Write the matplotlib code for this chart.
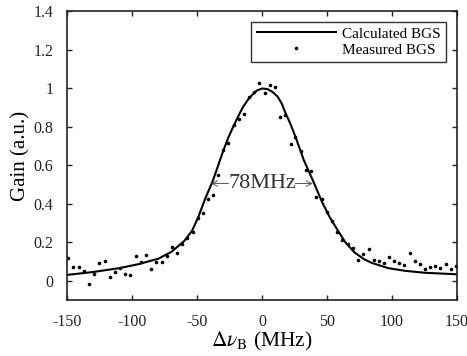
import numpy as np
import matplotlib
matplotlib.use('Agg')
import matplotlib.pyplot as plt
from matplotlib.ticker import FormatStrFormatter

# Measured BGS
x_meas = [-149.4, -145.5, -141.0, -137.3, -133.2, -129.3, -125.5, -121.3, -117.5, -113.6,
          -109.5, -105.4, -101.6, -97.4, -93.6, -89.5, -85.6, -81.5, -77.4, -73.5,
          -69.4, -65.6, -61.7, -57.6, -53.5, -49.6, -45.8, -41.9, -38.0, -33.7,
          -29.9, -26.0, -21.9, -18.0, -13.9, -10.1, -6.0, -2.1, 2.0, 5.9,
          10.0, 13.8, 17.7, 21.8, 25.6, 29.8, 33.9, 37.7, 41.8, 45.7,
          49.9, 53.7, 57.6, 61.6, 65.7, 69.6, 73.7, 77.6, 81.9, 85.8,
          89.6, 93.5, 97.7, 101.5, 105.6, 109.4, 113.5, 117.7, 121.8, 125.6,
          129.5, 133.3, 137.2, 141.3, 145.2, 149.0]
y_meas = [0.12, 0.074, 0.074, 0.053, -0.016, 0.036, 0.095, 0.105, 0.019, 0.048,
          0.066, 0.035, 0.028, 0.13, 0.10, 0.135, 0.062, 0.098, 0.098, 0.131,
          0.178, 0.144, 0.193, 0.221, 0.255, 0.325, 0.354, 0.425, 0.446, 0.55,
          0.677, 0.715, 0.808, 0.84, 0.867, 0.956, 0.982, 1.028, 0.973, 1.018,
          1.005, 0.848, 0.862, 0.709, 0.748, 0.675, 0.575, 0.568, 0.437, 0.425,
          0.356, 0.312, 0.252, 0.212, 0.192, 0.169, 0.109, 0.14, 0.164, 0.109,
          0.105, 0.095, 0.123, 0.105, 0.092, 0.083, 0.147, 0.104, 0.088, 0.061,
          0.071, 0.079, 0.069, 0.086, 0.064, 0.078]

# Calculated BGS
x_calc = [-150, -130, -110, -95, -80, -70, -60, -54, -49, -44, -38, -30, -26, -22, -18, -15,
          -11, -8, -4, 0, 4, 8, 12, 15, 18, 22, 26, 32, 40, 46, 52, 58, 64, 71, 78, 84,
          97, 110, 125, 150]
y_calc = [0.031, 0.046, 0.066, 0.087, 0.115, 0.15, 0.207, 0.26, 0.335, 0.425, 0.52, 0.675,
          0.745, 0.805, 0.86, 0.9, 0.94, 0.963, 0.988, 0.998, 0.995, 0.98, 0.955, 0.92,
          0.87, 0.81, 0.74, 0.627, 0.506, 0.41, 0.33, 0.264, 0.2, 0.148, 0.114, 0.094,
          0.066, 0.052, 0.042, 0.034]

xticks = [-150, -100, -50, 0, 50, 100, 150]
yticks = [0, 0.2, 0.4, 0.6, 0.8, 1, 1.2, 1.4]

plt.rcParams['font.family'] = ['Liberation Serif', 'DejaVu Serif']
plt.rcParams['mathtext.fontset'] = 'stix'
plt.rcParams['axes.unicode_minus'] = False

fig = plt.figure(figsize=(4.67, 3.56), dpi=100)
ax = fig.add_axes([0.1445, 0.157, 0.834, 0.812])

ax.plot(x_calc, y_calc, color='black', lw=1.5, label='Calculated BGS')
ax.plot(x_meas, y_meas, 'o', color='black', ms=2.6, mew=0, label='Measured BGS')

# FWHM annotation
ax.text(0, 0.505, '78MHz', ha='center', va='center', fontsize=16, color='#333333')
ax.annotate('', xy=(-39.5, 0.505), xytext=(-26, 0.505),
            arrowprops=dict(arrowstyle='->', color='#555555', lw=0.7,
                            shrinkA=0, shrinkB=0))
ax.annotate('', xy=(39, 0.505), xytext=(25.5, 0.505),
            arrowprops=dict(arrowstyle='->', color='#555555', lw=0.7,
                            shrinkA=0, shrinkB=0))

ax.set_xlim(-150, 150)
ax.set_ylim(-0.1, 1.4)
ax.set_xticks(xticks)
ax.set_yticks(yticks)
ax.yaxis.set_major_formatter(FormatStrFormatter('%g'))
ax.tick_params(direction='in', top=True, right=True, length=3.5, width=1,
               labelsize=11.5, colors='#222222', pad=10)
for s in ax.spines.values():
    s.set_linewidth(1.2)
    s.set_color('#222222')

ax.set_xlabel(r'$\Delta\nu_{\mathrm{B}}$ (MHz)', fontsize=15.5, labelpad=0)
ax.set_ylabel('Gain (a.u.)', fontsize=15, labelpad=2)

leg = ax.legend(loc='upper right', fontsize=11, frameon=True, fancybox=False,
                edgecolor='black', handlelength=5.2, borderpad=0.35,
                labelspacing=0.15, borderaxespad=0.7, handletextpad=0.4)
leg.get_frame().set_linewidth(1.0)

fig.savefig('out.png', dpi=100)
